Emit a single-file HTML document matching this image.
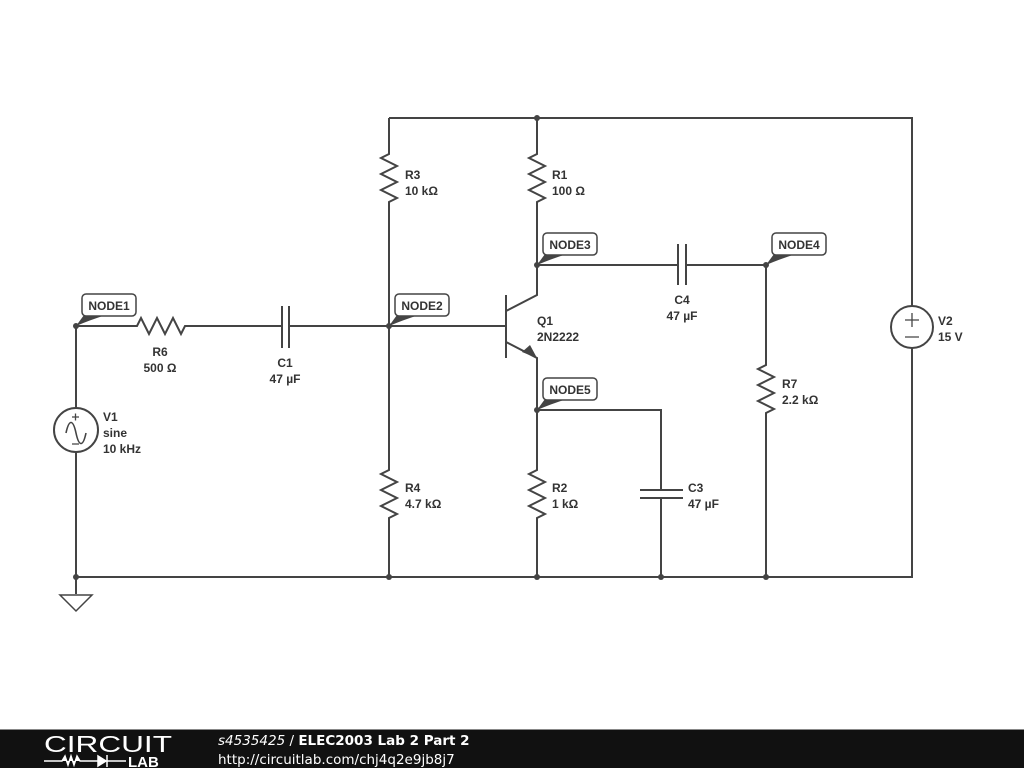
<!DOCTYPE html>
<html><head><meta charset="utf-8"><style>
html,body{margin:0;padding:0;background:#fff;width:1024px;height:768px;overflow:hidden}
svg{display:block}
.w{stroke:#444;stroke-width:2;fill:none}
.t{font-family:"Liberation Sans",sans-serif;font-size:12px;font-weight:bold;fill:#333}
.n{font-family:"Liberation Sans",sans-serif;font-size:12px;font-weight:bold;fill:#333}
</style></head><body>
<svg width="1024" height="768" viewBox="0 0 1024 768">
<g class="w">
<path d="M389 118H912V306"/><path d="M912 348V577H76"/>
<path d="M76 326V408M76 452V594"/>
<circle cx="76" cy="430" r="22"/>
<path d="M66 433c3-14 7-14 10 0s7 14 10 0" stroke-width="1.6"/>
<path d="M72 417h7M75.5 413.5v7M72 444h7" stroke-width="1.3"/>
<path d="M60 595H92L76 611Z" stroke-width="1.5"/>
<path d="M76 326H137L141 318L149 334L157 318L165 334L173 318L181 334L185 326H282"/>
<path d="M282 306V348M289 306V348"/>
<path d="M289 326H506"/>
<path d="M389 118V154L381 158L397 166L381 174L397 182L381 190L397 198L389 202V470L381 474L397 482L381 490L397 498L381 506L397 514L389 518V577"/>
<path d="M537 118V154L529 158L545 166L529 174L545 182L529 190L545 198L537 202V295L506 311"/>
<path d="M506 295V358"/>
<path d="M506 342L537 358V470L529 474L545 482L529 490L545 498L529 506L545 514L537 518V577"/>
<path d="M537 265H678M686 265H766V365L758 369L774 377L758 385L774 393L758 401L774 409L766 413V577"/>
<path d="M678 244V285M686 244V285"/>
<path d="M537 410H661V490M661 498V577"/>
<path d="M640 490H683M640 498H683"/>
<circle cx="912" cy="327" r="21"/>
<path d="M905 320h14M912 313v14M905 337h14" stroke-width="1.3"/>
</g>
<path d="M537 358L530 345L522 352Z" fill="#444"/>
<g fill="#444">
<circle cx="76" cy="326" r="3"/><circle cx="389" cy="326" r="3"/><circle cx="537" cy="265" r="3"/><circle cx="766" cy="265" r="3"/><circle cx="537" cy="410" r="3"/><circle cx="537" cy="118" r="3"/>
<circle cx="76" cy="577" r="3"/><circle cx="389" cy="577" r="3"/><circle cx="537" cy="577" r="3"/><circle cx="661" cy="577" r="3"/><circle cx="766" cy="577" r="3"/>
</g>
<g>
<g transform="translate(76,326)"><path d="M0 0L8 -11H30Q14 -6 0 0Z" fill="#444"/><rect x="6" y="-32" width="54" height="22" rx="4" fill="#fff" stroke="#444" stroke-width="1.5"/><text x="33" y="-16" text-anchor="middle" class="n">NODE1</text></g>
<g transform="translate(389,326)"><path d="M0 0L8 -11H30Q14 -6 0 0Z" fill="#444"/><rect x="6" y="-32" width="54" height="22" rx="4" fill="#fff" stroke="#444" stroke-width="1.5"/><text x="33" y="-16" text-anchor="middle" class="n">NODE2</text></g>
<g transform="translate(537,265)"><path d="M0 0L8 -11H30Q14 -6 0 0Z" fill="#444"/><rect x="6" y="-32" width="54" height="22" rx="4" fill="#fff" stroke="#444" stroke-width="1.5"/><text x="33" y="-16" text-anchor="middle" class="n">NODE3</text></g>
<g transform="translate(766,265)"><path d="M0 0L8 -11H30Q14 -6 0 0Z" fill="#444"/><rect x="6" y="-32" width="54" height="22" rx="4" fill="#fff" stroke="#444" stroke-width="1.5"/><text x="33" y="-16" text-anchor="middle" class="n">NODE4</text></g>
<g transform="translate(537,410)"><path d="M0 0L8 -11H30Q14 -6 0 0Z" fill="#444"/><rect x="6" y="-32" width="54" height="22" rx="4" fill="#fff" stroke="#444" stroke-width="1.5"/><text x="33" y="-16" text-anchor="middle" class="n">NODE5</text></g>
</g>
<g class="t">
<text x="160" y="356" text-anchor="middle">R6</text><text x="160" y="372" text-anchor="middle">500 Ω</text>
<text x="285" y="367" text-anchor="middle">C1</text><text x="285" y="383" text-anchor="middle">47 µF</text>
<text x="103" y="421">V1</text><text x="103" y="437">sine</text><text x="103" y="453">10 kHz</text>
<text x="405" y="179">R3</text><text x="405" y="195">10 kΩ</text>
<text x="552" y="179">R1</text><text x="552" y="195">100 Ω</text>
<text x="537" y="325">Q1</text><text x="537" y="341">2N2222</text>
<text x="682" y="304" text-anchor="middle">C4</text><text x="682" y="320" text-anchor="middle">47 µF</text>
<text x="782" y="388">R7</text><text x="782" y="404">2.2 kΩ</text>
<text x="938" y="325">V2</text><text x="938" y="341">15 V</text>
<text x="405" y="492">R4</text><text x="405" y="508">4.7 kΩ</text>
<text x="552" y="492">R2</text><text x="552" y="508">1 kΩ</text>
<text x="688" y="492">C3</text><text x="688" y="508">47 µF</text>
</g>
<rect x="0" y="730" width="1024" height="38" fill="#111"/>
<rect x="0" y="729" width="1024" height="1" fill="#888"/>
<text x="44" y="752" font-family="Liberation Sans,sans-serif" font-size="23" fill="#fff" textLength="128" lengthAdjust="spacingAndGlyphs">CIRCUIT</text>
<path d="M44 761H62L65 756L68 765L71 756L74 765L77 756L80 761H98M98 756V766L106 761ZM107 755V767M107 761H126" stroke="#fff" stroke-width="1.5" fill="#fff"/>
<text x="128" y="767" font-family="Liberation Sans,sans-serif" font-size="15" font-weight="bold" fill="#fff">LAB</text>
<text x="218" y="745" font-family="DejaVu Sans,sans-serif" font-size="13.5" fill="#fff"><tspan font-style="italic">s4535425</tspan> / <tspan font-weight="bold">ELEC2003 Lab 2 Part 2</tspan></text>
<text x="218" y="764" font-family="DejaVu Sans,sans-serif" font-size="13.5" fill="#fff">http://circuitlab.com/chj4q2e9jb8j7</text>
</svg>
</body></html>
